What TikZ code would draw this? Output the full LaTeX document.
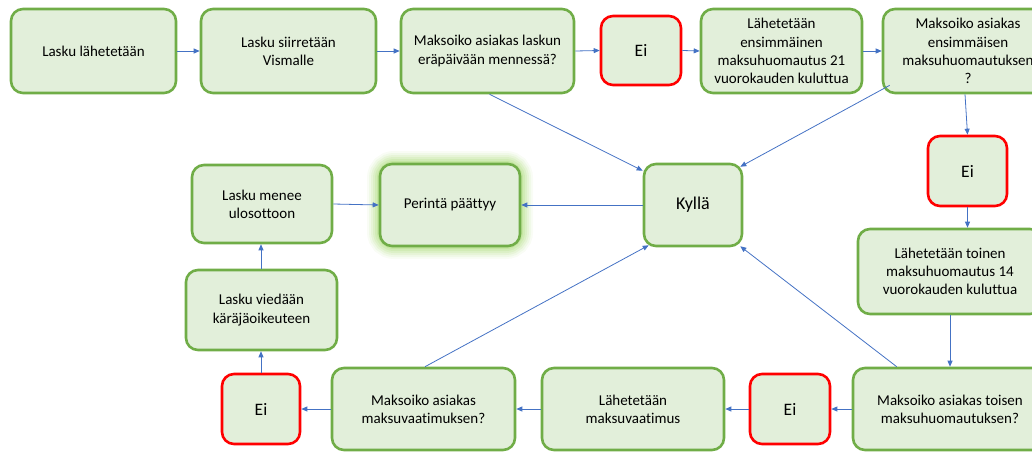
\documentclass[tikz,border=0pt]{standalone}
\usepackage{fontspec}
\setmainfont[Ligatures=NoCommon]{Carlito}
\usetikzlibrary{arrows.meta,calc}
\definecolor{boxfill}{HTML}{E2EFDA}
\definecolor{boxgreen}{HTML}{70AD47}
\definecolor{boxred}{HTML}{FF0000}
\definecolor{arrowblue}{HTML}{4472C4}
\definecolor{glowgreen}{HTML}{92D050}
\begin{document}
\begin{tikzpicture}[x=1pt,y=-1pt,
  box/.style={draw=boxgreen, fill=boxfill, line width=2.6pt, rounded corners=12pt, align=center,
    font=\fontsize{15}{18.3}\selectfont, inner sep=0pt},
  redbox/.style={box, draw=boxred, font=\fontsize{17.5}{21}\selectfont},
  arr/.style={draw=arrowblue, line width=0.8pt, -{Triangle[length=6pt,width=5pt]}}
]
\useasboundingbox (0,0) rectangle (1032,452);
\clip (0,0) rectangle (1032,452);

% glow behind "Perintä päättyy"
\foreach \w/\o in {26/0.06,22/0.08,18/0.1,14/0.12,10/0.15,6/0.2}
  \draw[glowgreen, line width=\w pt, opacity=\o, rounded corners=14pt] (380,164) rectangle (520,246);

% top row
\node[box, minimum width=165, minimum height=84] (A) at (93.5,51) {Lasku lähetetään};
\node[box, minimum width=175, minimum height=84] (B) at (288.5,51) {Lasku siirretään\\Vismalle};
\node[box, minimum width=173, minimum height=84] (C) at (487.5,51) {Maksoiko asiakas laskun\\eräpäivään mennessä?};
\node[redbox, minimum width=80, minimum height=69] (D) at (641,50.5) {Ei};
\node[box, minimum width=161, minimum height=84] (E) at (781.5,51) {Lähetetään\\ensimmäinen\\maksuhuomautus 21\\vuorokauden kuluttua};
\node[box, minimum width=170, minimum height=84] (F) at (968,51) {Maksoiko asiakas\\ensimmäisen\\maksuhuomautuksen\\?};

% right column
\node[redbox, minimum width=79, minimum height=70] (G) at (967.5,171) {Ei};
\node[box, minimum width=184, minimum height=85] (H) at (950,271.5) {Lähetetään toinen\\maksuhuomautus 14\\vuorokauden kuluttua};

% bottom row
\node[box, minimum width=194, minimum height=82] (I) at (950,409) {Maksoiko asiakas toisen\\maksuhuomautuksen?};
\node[redbox, minimum width=80, minimum height=70] (J) at (790,409) {Ei};
\node[box, minimum width=182, minimum height=82] (K) at (633,409) {Lähetetään\\maksuvaatimus};
\node[box, minimum width=183, minimum height=82] (L) at (423.5,409) {Maksoiko asiakas\\maksuvaatimuksen?};
\node[redbox, minimum width=78, minimum height=70] (M) at (261,409) {Ei};

% left column
\node[box, minimum width=151, minimum height=80] (N) at (261.5,310) {Lasku viedään\\käräjäoikeuteen};
\node[box, minimum width=140, minimum height=78] (O) at (262,204) {Lasku menee\\ulosottoon};
\node[box, minimum width=140, minimum height=82] (P) at (450,205) {Perintä päättyy};
\node[box, minimum width=98, minimum height=82, font=\fontsize{18}{22}\selectfont] (Q) at (693,205) {Kyllä};

% connectors
\draw[arr] (A.east) -- (B.west);
\draw[arr] (B.east) -- (C.west);
\draw[arr] (C.east) -- (D.west);
\draw[arr] (D.east) -- (E.west);
\draw[arr] (E.east) -- (F.west);
\draw[arr] ($(F.south)+(-3,0)$) -- (G.north);
\draw[arr] (G.south) -- (G.south |- H.north);
\draw[arr] (H.south) -- (I.north -| H.south);
\draw[arr] (I.west) -- (J.east);
\draw[arr] (J.west) -- (K.east);
\draw[arr] (K.west) -- (L.east);
\draw[arr] (L.west) -- (M.east);
\draw[arr] (M.north) -- (M.north |- N.south);
\draw[arr] (N.north -| M.north) -- (M.north |- O.south);
\draw[arr] (O.east) -- (P.west);
\draw[arr] (Q.west) -- (P.east);
\draw[arr] ($(C.south)+(2,0)$) -- ($(Q.north west)+(0,8)$);
\draw[arr] ($(F.south west)+(8,-9)$) -- ($(Q.north east)+(-3,4)$);
\draw[arr] ($(L.north)+(1.5,0)$) -- ($(Q.south west)+(6,-2)$);
\draw[arr] ($(I.north west)+(45,0)$) -- ($(Q.south east)+(-3,-1)$);
\end{tikzpicture}
\end{document}
